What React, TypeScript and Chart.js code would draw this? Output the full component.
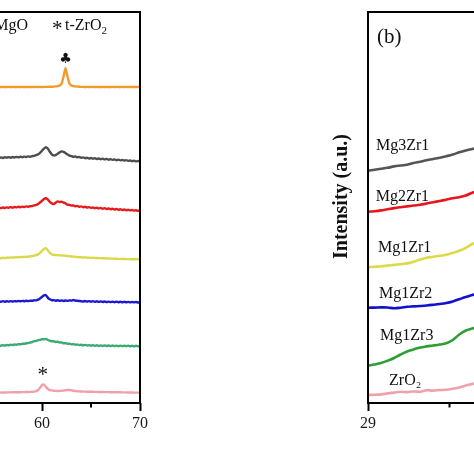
import React, { useEffect, useRef } from "react";
import { Chart, registerables } from "chart.js";

Chart.register(...registerables);

const SERIF = '"Liberation Serif", "Times New Roman", Times, serif';

// ---------------- Panel (a): XRD patterns, 2θ (°) ----------------
const thetaA = [
  55.0, 55.2, 55.4, 55.6, 55.8, 56.0, 56.2, 56.4, 56.6, 56.8,
  57.0, 57.2, 57.4, 57.6, 57.8, 58.0, 58.2, 58.4, 58.6, 58.8,
  59.0, 59.2, 59.4, 59.6, 59.8, 60.0, 60.2, 60.4, 60.6, 60.8,
  61.0, 61.2, 61.4, 61.6, 61.8, 62.0, 62.2, 62.4, 62.6, 62.8,
  63.0, 63.2, 63.4, 63.6, 63.8, 64.0, 64.2, 64.4, 64.6, 64.8,
  65.0, 65.2, 65.4, 65.6, 65.8, 66.0, 66.2, 66.4, 66.6, 66.8,
  67.0, 67.2, 67.4, 67.6, 67.8, 68.0, 68.2, 68.4, 68.6, 68.8,
  69.0, 69.2, 69.4, 69.6, 69.8, 70.0,
];

const aMgO = [
  316.0, 316.1, 316.0, 316.1, 316.0, 316.1, 316.0, 316.0, 316.1, 316.0,
  316.1, 316.0, 316.0, 316.1, 316.0, 316.1, 316.0, 316.0, 316.1, 316.0,
  316.1, 316.0, 316.1, 316.0, 316.1, 316.0, 316.1, 316.1, 316.2, 316.2,
  316.3, 316.4, 316.6, 316.9,
  317.6, 319.6, 326.5, 335.0, 326.5, 319.6, 317.6, 316.9, 316.6, 316.4, 316.2, 316.1,
  316.1, 316.0, 316.1, 316.0, 316.0, 316.1, 316.0, 316.1, 316.0, 316.0,
  316.1, 316.0, 316.1, 316.0, 316.0, 316.1, 316.0, 316.1, 316.0, 316.0,
  316.1, 316.0, 316.1, 316.0, 316.0, 316.1, 316.0, 316.1, 316.0, 316.0,
];

const aMg3Zr1 = [
  245.2, 244.6, 245.5, 244.9, 245.6, 245.0, 245.8, 245.3, 245.9, 245.2,
  246.0, 245.5, 246.1, 245.6, 246.3, 245.8, 246.4, 246.0, 246.6, 246.2,
  246.8, 247.2, 247.9, 248.6, 250.2, 252.3, 254.4, 255.8, 254.3, 251.2,
  248.7, 247.6, 247.9, 249.3, 250.6, 251.6, 251.2, 249.9, 248.6, 247.4,
  246.9, 246.2, 246.6, 245.7, 246.1, 245.3,
  245.6, 244.8, 245.2, 244.5, 245.0, 244.3, 244.8, 244.0, 244.5, 243.8,
  244.3, 243.6, 244.1, 243.3, 243.9, 243.1, 243.6, 242.8, 243.4, 242.6,
  243.1, 242.4, 242.9, 242.1, 242.6, 241.8, 242.3, 241.6, 242.0, 241.5,
];

const aMg2Zr1 = [
  194.5, 195.1, 194.6, 195.3, 194.8, 195.5, 195.0, 195.6, 195.2, 195.9,
  195.3, 196.0, 195.6, 196.2, 195.8, 196.4, 196.0, 196.6, 196.3, 196.8,
  197.0, 197.6, 198.0, 199.1, 200.6, 202.2, 204.1, 204.8, 203.4, 201.1,
  199.6, 198.9, 200.4, 201.6, 200.9, 201.4, 200.4, 199.6, 198.4, 198.1,
  197.4, 197.6, 196.8, 197.1, 196.3, 196.6,
  195.8, 196.2, 195.4, 195.9, 195.1, 195.6, 194.8, 195.3, 194.6, 195.0,
  194.3, 194.8, 194.0, 194.5, 193.8, 194.2, 193.5, 194.0, 193.3, 193.7,
  193.0, 193.5, 192.8, 193.2, 192.6, 193.0, 192.4, 192.8, 192.2, 192.5,
];

const aMg1Zr1 = [
  144.6, 144.9, 144.7, 145.0, 144.8, 145.2, 145.0, 145.3, 145.2, 145.5,
  145.4, 145.7, 145.6, 145.9, 145.8, 146.1, 146.0, 146.3, 146.3, 146.6,
  147.0, 147.3, 147.8, 148.6, 150.1, 152.1, 154.0, 154.8, 152.6, 150.1,
  148.6, 148.1, 148.0, 147.9, 147.6, 147.6, 147.4, 147.3, 147.0, 146.9,
  146.5, 146.4, 146.1, 146.0, 145.8, 145.7,
  145.5, 145.6, 145.3, 145.4, 145.1, 145.2, 145.0, 145.0, 144.8, 144.9,
  144.7, 144.7, 144.5, 144.6, 144.4, 144.4, 144.2, 144.3, 144.1, 144.1,
  144.0, 144.0, 143.9, 143.9, 143.8, 143.8, 143.8, 143.7, 143.7, 143.7,
];

const aMg1Zr2 = [
  101.0, 101.6, 101.1, 101.7, 101.2, 101.8, 101.3, 101.7, 101.4, 101.9,
  101.5, 101.9, 101.6, 102.0, 101.7, 102.1, 101.8, 102.2, 101.9, 102.3,
  102.2, 102.7, 102.6, 103.4, 104.6, 106.1, 107.6, 107.8, 105.2, 103.8,
  102.7, 102.9, 102.3, 102.7, 102.1, 102.6, 102.0, 102.5, 102.1, 102.6,
  102.4, 103.0, 102.5, 102.2, 102.0, 101.8,
  101.5, 102.0, 101.4, 101.9, 101.3, 101.8, 101.2, 101.7, 101.1, 101.6,
  101.0, 101.5, 100.9, 101.4, 100.9, 101.3, 100.8, 101.3, 100.8, 101.2,
  100.7, 101.2, 100.7, 101.1, 100.6, 101.0, 100.6, 101.0, 100.5, 100.8,
];

const aMg1Zr3 = [
  56.8, 57.4, 57.0, 57.6, 57.3, 57.8, 57.5, 58.0, 57.7, 58.2,
  58.0, 58.5, 58.3, 58.8, 58.7, 59.2, 59.2, 59.7, 59.9, 60.5,
  61.0, 61.8, 62.1, 62.8, 63.1, 63.9, 63.7, 64.1, 63.0, 62.4,
  61.6, 61.8, 61.0, 61.2, 60.4, 60.6, 59.7, 59.9, 59.2, 59.4,
  58.6, 58.9, 58.2, 58.6, 57.9, 58.3,
  57.7, 58.1, 57.5, 57.9, 57.3, 57.8, 57.2, 57.7, 57.1, 57.6,
  57.0, 57.6, 57.0, 57.5, 56.9, 57.5, 56.9, 57.4, 56.8, 57.4,
  56.8, 57.3, 56.8, 57.3, 56.7, 57.2, 56.7, 57.2, 56.7, 57.1,
];

const aZrO2 = [
  10.3, 10.4, 10.3, 10.5, 10.4, 10.5, 10.5, 10.6, 10.6, 10.7,
  10.6, 10.8, 10.7, 10.8, 10.8, 10.9, 10.9, 11.0, 11.0, 11.1,
  11.2, 11.4, 11.8, 12.8, 15.2, 18.0, 18.4, 16.2, 14.0, 13.0,
  12.6, 12.3, 12.1, 12.0, 12.1, 12.2, 12.5, 12.8, 13.0, 13.0,
  12.7, 12.3, 12.0, 11.8, 11.6, 11.5,
  11.4, 11.4, 11.3, 11.3, 11.2, 11.2, 11.1, 11.1, 11.0, 11.0,
  11.0, 10.9, 10.9, 10.9, 10.8, 10.8, 10.8, 10.7, 10.7, 10.7,
  10.6, 10.6, 10.6, 10.5, 10.5, 10.5, 10.4, 10.4, 10.4, 10.3,
];

const aNames = ["MgO", "Mg3Zr1", "Mg2Zr1", "Mg1Zr1", "Mg1Zr2", "Mg1Zr3", "ZrO2"];
const aSeries = [aMgO, aMg3Zr1, aMg2Zr1, aMg1Zr1, aMg1Zr2, aMg1Zr3, aZrO2];
const aColors = ["#F39A2C", "#4E4E4E", "#E61B1B", "#DCD84C", "#1A1AD2", "#3CAA72", "#F0A0A8"];

// ---------------- Panel (b): zoomed region, 2θ (°) ----------------
const thetaB = [
  29.0, 29.04, 29.08, 29.12, 29.16, 29.2, 29.24, 29.28, 29.32,
  29.36, 29.4, 29.44, 29.48, 29.52, 29.56, 29.6, 29.64, 29.68,
];
const bMg3Zr1 = [232.3, 233.3, 234.2, 235.2, 236.6, 237.5, 238.3, 240.0, 241.3, 242.8, 244.0, 245.3, 246.8, 248.5, 250.7, 252.5, 254.0, 255.5];
const bMg2Zr1 = [191.3, 191.8, 192.6, 193.8, 194.9, 195.8, 196.6, 197.5, 198.3, 199.5, 200.8, 202.0, 203.3, 204.7, 205.8, 207.5, 210.3, 212.5];
const bMg1Zr1 = [135.7, 136.2, 136.7, 137.4, 138.1, 138.8, 139.6, 141.3, 143.5, 145.2, 146.2, 147.2, 148.3, 150.1, 152.3, 155.2, 159.0, 162.0];
const bMg1Zr2 = [95.3, 95.4, 95.6, 95.5, 94.8, 95.3, 96.2, 96.6, 97.0, 97.5, 98.2, 99.0, 100.0, 101.6, 103.8, 106.0, 108.0, 110.0];
const bMg1Zr3 = [37.3, 38.5, 40.0, 42.3, 45.0, 48.5, 51.5, 53.6, 55.5, 56.6, 57.5, 58.5, 59.7, 63.0, 68.5, 72.5, 74.5, 76.5];
const bZrO2 = [8.0, 8.3, 8.6, 9.6, 10.4, 11.2, 10.9, 11.5, 11.3, 12.8, 12.4, 13.0, 13.2, 14.2, 15.5, 17.5, 19.0, 20.5];

const bNames = ["Mg3Zr1", "Mg2Zr1", "Mg1Zr1", "Mg1Zr2", "Mg1Zr3", "ZrO₂"];
const bSeries = [bMg3Zr1, bMg2Zr1, bMg1Zr1, bMg1Zr2, bMg1Zr3, bZrO2];
const bColors = ["#555555", "#E8161C", "#DCDA46", "#1212CC", "#2E9E32", "#F0A2AA"];

// label anchor points (data coordinates: 2θ, intensity)
const bLabelX = [29.049, 29.047, 29.061, 29.067, 29.074, 29.129];
const bLabelY = [253, 202, 151.3, 104.7, 63, 18];

type Note = {
  text: string; x: number; y: number; font: string;
  align: CanvasTextAlign; baseline: CanvasTextBaseline; sub?: string;
};

const aNotes: Note[] = [
  { text: "♣", x: 53.6, y: 377, font: '14px "DejaVu Sans"', align: "center", baseline: "middle" },
  { text: "MgO", x: 55.12, y: 373, font: `16px ${SERIF}`, align: "left", baseline: "alphabetic" },
  { text: "*", x: 61.56, y: 368.3, font: `21px ${SERIF}`, align: "center", baseline: "alphabetic" },
  { text: "t-ZrO", x: 62.35, y: 373, font: `16px ${SERIF}`, align: "left", baseline: "alphabetic", sub: "2" },
  { text: "♣", x: 62.4, y: 344, font: '14px "DejaVu Sans"', align: "center", baseline: "middle" },
  { text: "*", x: 60.07, y: 21.6, font: `21px ${SERIF}`, align: "center", baseline: "alphabetic" },
];

const bNotes: Note[] = [
  { text: "(b)", x: 29.055, y: 360.5, font: `21px ${SERIF}`, align: "left", baseline: "alphabetic" },
  ...bNames.map((t, i) => ({
    text: t, x: bLabelX[i], y: bLabelY[i], font: `16px ${SERIF}`,
    align: "left" as CanvasTextAlign, baseline: "alphabetic" as CanvasTextBaseline,
  })),
];

const Y_MAX = 391;

function drawNotes(chart: any, notes: Note[]) {
  const { ctx } = chart;
  const xs = chart.scales.x;
  const ys = chart.scales.y;
  for (const n of notes) {
    const px = xs.getPixelForValue(n.x);
    const py = ys.getPixelForValue(n.y);
    ctx.font = n.font;
    ctx.fillStyle = "#111";
    ctx.textAlign = n.align;
    ctx.textBaseline = n.baseline;
    ctx.fillText(n.text, px, py);
    if (n.sub) {
      const w = ctx.measureText(n.text).width;
      ctx.font = `11px ${SERIF}`;
      ctx.textAlign = "left";
      ctx.fillText(n.sub, px + w, py + 4);
    }
  }
}

function framePlugin(major: number, notes: Note[], yTitle?: string) {
  return {
    id: "frameAndNotes",
    afterDraw(chart: any) {
      const { ctx, chartArea: ca } = chart;
      const xs = chart.scales.x;
      ctx.save();
      ctx.strokeStyle = "#000";
      ctx.lineWidth = 2;
      ctx.strokeRect(ca.left, ca.top, ca.right - ca.left, ca.bottom - ca.top);
      // minor ticks
      for (const t of xs.ticks) {
        const r = t.value / major;
        if (Math.abs(r - Math.round(r)) > 1e-6) {
          const px = xs.getPixelForValue(t.value);
          ctx.beginPath();
          ctx.moveTo(px, ca.bottom);
          ctx.lineTo(px, ca.bottom + 4.5);
          ctx.stroke();
        }
      }
      drawNotes(chart, notes);
      if (yTitle) {
        const py = chart.scales.y.getPixelForValue(206.5);
        ctx.translate(ca.left - 26.5, py);
        ctx.rotate(-Math.PI / 2);
        ctx.font = `bold 20px ${SERIF}`;
        ctx.fillStyle = "#111";
        ctx.textAlign = "center";
        ctx.textBaseline = "middle";
        ctx.fillText(yTitle, 0, 0);
      }
      ctx.restore();
    },
  };
}

function makeConfig(
  xVals: number[], series: number[][], names: string[], colors: string[],
  width: number, tension: number, xMin: number, xMax: number, major: number, minor: number,
  padLeft: number, padRight: number, notes: Note[], yTitle?: string,
): any {
  return {
    type: "line",
    data: {
      datasets: series.map((vals, k) => ({
        label: names[k],
        data: xVals.map((x, i) => ({ x, y: vals[i] })),
        borderColor: colors[k],
        borderWidth: width,
        pointRadius: 0,
        tension,
        fill: false,
      })),
    },
    options: {
      responsive: false,
      animation: false,
      events: [],
      layout: { padding: { left: padLeft, right: padRight, top: 12, bottom: 21 } },
      plugins: { legend: { display: false }, tooltip: { enabled: false } },
      scales: {
        x: {
          type: "linear",
          min: xMin,
          max: xMax,
          afterFit: (s: any) => { s.height = 50; },
          border: { display: false },
          grid: {
            display: true,
            drawOnChartArea: false,
            drawTicks: true,
            tickLength: 8,
            tickWidth: 2,
            tickColor: (c: any) => {
              const r = c.tick ? c.tick.value / major : 0;
              return Math.abs(r - Math.round(r)) < 1e-6 ? "#000" : "rgba(0,0,0,0)";
            },
          },
          ticks: {
            stepSize: minor,
            padding: 3,
            maxRotation: 0,
            autoSkip: false,
            color: "#1a1a1a",
            font: { family: SERIF, size: 16 },
            callback: (v: number) => {
              const r = v / major;
              return Math.abs(r - Math.round(r)) < 1e-6 ? String(Math.round(v)) : "";
            },
          },
        },
        y: { type: "linear", min: 0, max: Y_MAX, display: false },
      },
    },
    plugins: [framePlugin(major, notes, yTitle)],
  };
}

export default function App() {
  const refA = useRef<HTMLCanvasElement>(null);
  const refB = useRef<HTMLCanvasElement>(null);

  useEffect(() => {
    const a = new Chart(
      refA.current as HTMLCanvasElement,
      makeConfig(thetaA, aSeries, aNames, aColors, 2.4, 0.2, 20, 70, 10, 5, 50, 20, aNotes),
    );
    const b = new Chart(
      refB.current as HTMLCanvasElement,
      makeConfig(thetaB, bSeries, bNames, bColors, 2.6, 0.4, 29, 31, 1, 0.5, 78, 26, bNotes, "Intensity (a.u.)"),
    );
    return () => {
      a.destroy();
      b.destroy();
    };
  }, []);

  return (
    <div
      style={{
        position: "fixed", left: 0, top: 0, width: 474, height: 474,
        overflow: "hidden", background: "#fff",
      }}
    >
      <canvas ref={refA} width={560} height={474} style={{ position: "absolute", left: -400, top: 0 }} />
      <canvas ref={refB} width={430} height={474} style={{ position: "absolute", left: 290, top: 0 }} />
    </div>
  );
}
